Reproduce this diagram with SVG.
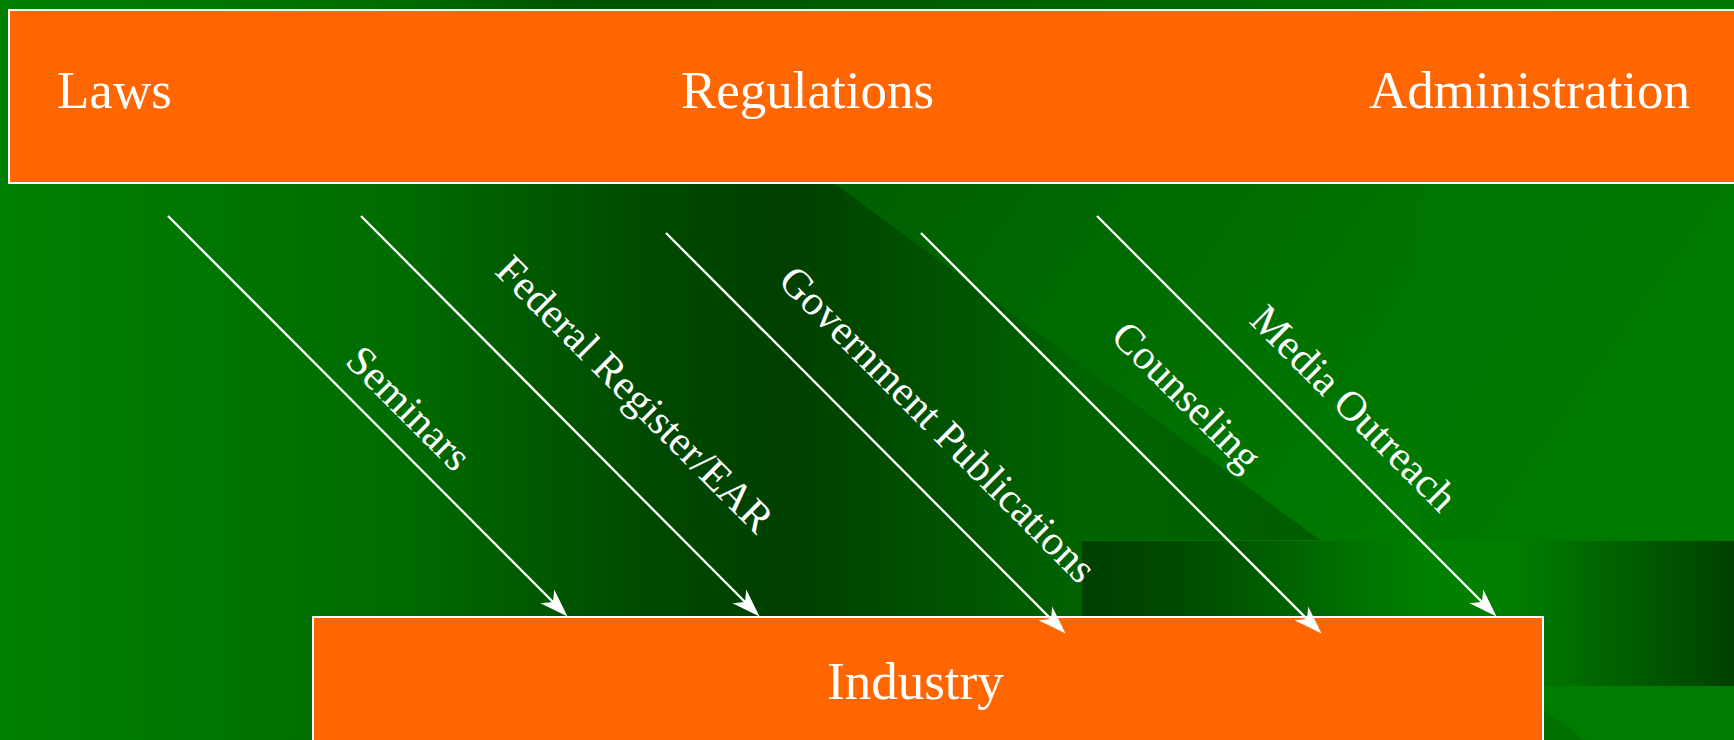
<svg xmlns="http://www.w3.org/2000/svg" width="1734" height="740" viewBox="0 0 1734 740">
  <defs>
    <style>
      .box { fill: #ff6600; stroke: #ffffff; stroke-width: 2; }
      .title { font-family: "Liberation Serif", "Times New Roman", serif; font-size: 53px; fill: #ffffff; }
      .lbl { font-family: "Liberation Serif", "Times New Roman", serif; font-size: 42px; fill: #ffffff; text-anchor: middle; }
      .conn { stroke: #ffffff; stroke-width: 2.3; fill: none; marker-end: url(#arrow); }
    </style>
    <marker id="arrow" markerUnits="userSpaceOnUse" markerWidth="40" markerHeight="30" viewBox="-25 -10 35 20" refX="0" refY="0" orient="auto" overflow="visible">
      <path d="M5,0 L-20,-8.5 L-13,0 L-20,8.5 Z" fill="#ffffff"/>
    </marker>
    <linearGradient id="gA" gradientUnits="userSpaceOnUse" x1="0" y1="0" x2="1320" y2="0">
      <stop offset="0" stop-color="#008000"/>
      <stop offset="0.3" stop-color="#006c00"/>
      <stop offset="0.5" stop-color="#004800"/>
      <stop offset="0.6" stop-color="#004000"/>
      <stop offset="0.82" stop-color="#006400"/>
      <stop offset="1" stop-color="#005c00"/>
    </linearGradient>
    <linearGradient id="gB" gradientUnits="userSpaceOnUse" x1="700" y1="0" x2="1500" y2="560">
      <stop offset="0" stop-color="#005600"/>
      <stop offset="1" stop-color="#007e00"/>
    </linearGradient>
    <linearGradient id="gC" gradientUnits="userSpaceOnUse" x1="1082" y1="0" x2="1734" y2="0">
      <stop offset="0" stop-color="#004000"/>
      <stop offset="0.15" stop-color="#004a00"/>
      <stop offset="0.52" stop-color="#008000"/>
      <stop offset="0.66" stop-color="#007e00"/>
      <stop offset="1" stop-color="#004000"/>
    </linearGradient>
  </defs>

  <g id="background">
    <rect x="0" y="0" width="1734" height="740" fill="url(#gB)"/>
    <rect x="1419" y="0" width="315" height="541" fill="#007600" opacity="0.6"/>
    <polygon points="0,0 584,0 1320,540 1082,540 1082,740 0,740" fill="url(#gA)"/>
    <rect x="1082" y="541" width="652" height="145" fill="url(#gC)"/>
    <rect x="1082" y="686" width="652" height="54" fill="#007c00"/>
    <polygon points="1543,686 1543,710 1585,740 1543,740" fill="#007000"/>
  </g>

  <g id="node-top">
    <rect class="box" x="9" y="10" width="1740" height="173"/>
    <text class="title" x="57" y="108">Laws</text>
    <text class="title" x="681" y="108">Regulations</text>
    <text class="title" x="1369" y="108">Administration</text>
  </g>

  <g id="node-industry">
    <rect class="box" x="313" y="617" width="1230" height="200"/>
    <text class="title" x="827" y="699">Industry</text>
  </g>

  <g id="connectors">
    <line class="conn" x1="168" y1="216" x2="563.5" y2="612.5"/>
    <line class="conn" x1="361" y1="216" x2="755.5" y2="612.5"/>
    <line class="conn" x1="666" y1="233" x2="1061.5" y2="629.5"/>
    <line class="conn" x1="921" y1="233" x2="1317.5" y2="629.5"/>
    <line class="conn" x1="1097" y1="216" x2="1492.5" y2="612.5"/>
    <text class="lbl" transform="translate(399 418) rotate(45)">Seminars</text>
    <text class="lbl" transform="translate(625 404) rotate(45)">Federal Register/EAR</text>
    <text class="lbl" transform="translate(928 434) rotate(45)">Government Publications</text>
    <text class="lbl" transform="translate(1177 406) rotate(45)">Counseling</text>
    <text class="lbl" transform="translate(1344 418) rotate(45)">Media Outreach</text>
  </g>
</svg>
